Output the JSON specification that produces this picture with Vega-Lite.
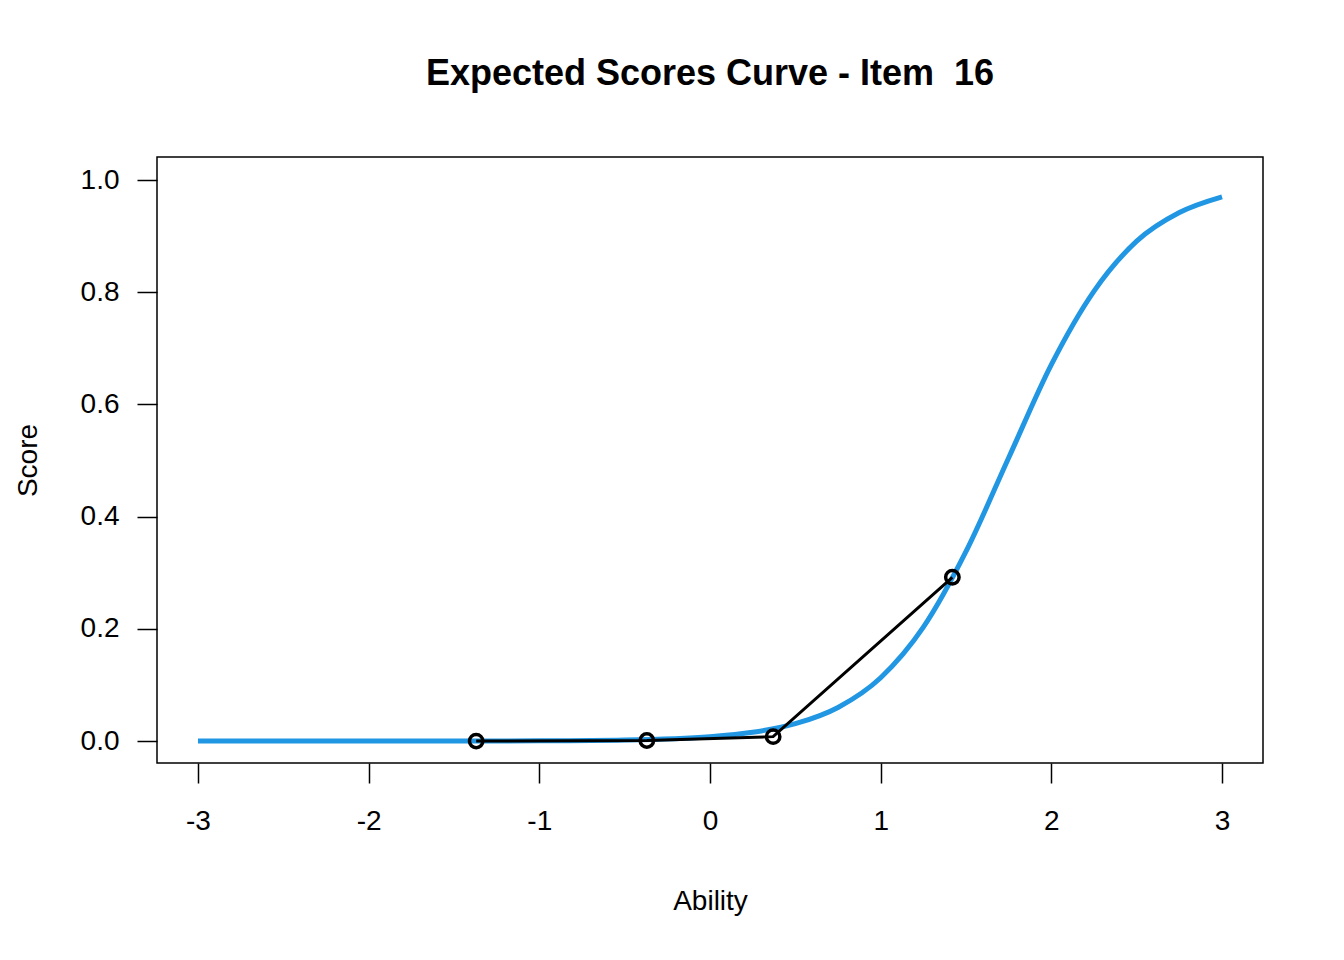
{
  "$schema": "https://vega.github.io/schema/vega-lite/v6.json",
  "width": 1106,
  "height": 606,
  "autosize": {"type": "none"},
  "padding": {"left": 157, "top": 157, "right": 81, "bottom": 197},
  "background": "white",
  "config": {
    "font": "Liberation Sans",
    "view": {"stroke": "black", "strokeWidth": 1.5},
    "axis": {"grid": false, "domain": false, "tickColor": "black", "tickWidth": 1.5, "tickSize": 20, "labelFontSize": 28, "labelColor": "black", "titleFontSize": 28, "titleFontWeight": "normal", "titleColor": "black", "labelFont": "Liberation Sans", "titleFont": "Liberation Sans"}
  },
  "title": {"text": "Expected Scores Curve - Item\u00a0 16", "fontSize": 36, "fontWeight": "bold", "offset": 64, "anchor": "middle", "color": "black", "font": "Liberation Sans"},
  "datasets": {
    "curve": [
      {"x": -3, "y": 0}, {"x": -2.5, "y": 0.00001}, {"x": -2, "y": 0.00003}, {"x": -1.5, "y": 0.0001},
      {"x": -1, "y": 0.0005}, {"x": -0.5, "y": 0.002}, {"x": 0, "y": 0.0079}, {"x": 0.25, "y": 0.0157},
      {"x": 0.5, "y": 0.031}, {"x": 0.75, "y": 0.06}, {"x": 1, "y": 0.113}, {"x": 1.25, "y": 0.203},
      {"x": 1.5, "y": 0.338}, {"x": 1.75, "y": 0.505}, {"x": 2, "y": 0.671}, {"x": 2.25, "y": 0.802},
      {"x": 2.5, "y": 0.891}, {"x": 2.75, "y": 0.942}, {"x": 3, "y": 0.97}
    ],
    "obs": [
      {"x": -1.37, "y": 0.0}, {"x": -0.37, "y": 0.001}, {"x": 0.37, "y": 0.008}, {"x": 1.42, "y": 0.292}
    ]
  },
  "encoding": {
    "x": {"field": "x", "type": "quantitative", "scale": {"domain": [-3.24, 3.24], "nice": false, "zero": false},
      "axis": {"values": [-3, -2, -1, 0, 1, 2, 3], "labelExpr": "replace(datum.label, '\u2212', '-')", "title": "Ability", "labelPadding": 24, "titlePadding": 52}},
    "y": {"field": "y", "type": "quantitative", "scale": {"domain": [-0.039, 1.041], "nice": false},
      "axis": {"values": [0, 0.2, 0.4, 0.6, 0.8, 1.0], "format": ".1f", "title": "Score", "labelPadding": 18, "titlePadding": 38}}
  },
  "layer": [
    {"data": {"name": "curve"}, "mark": {"type": "line", "color": "#2196E3", "strokeWidth": 5, "interpolate": "monotone"}},
    {"data": {"name": "obs"}, "mark": {"type": "line", "color": "black", "strokeWidth": 3}},
    {"data": {"name": "obs"}, "mark": {"type": "point", "shape": "circle", "filled": false, "color": "black", "size": 180, "strokeWidth": 3.5, "opacity": 1}}
  ]
}
